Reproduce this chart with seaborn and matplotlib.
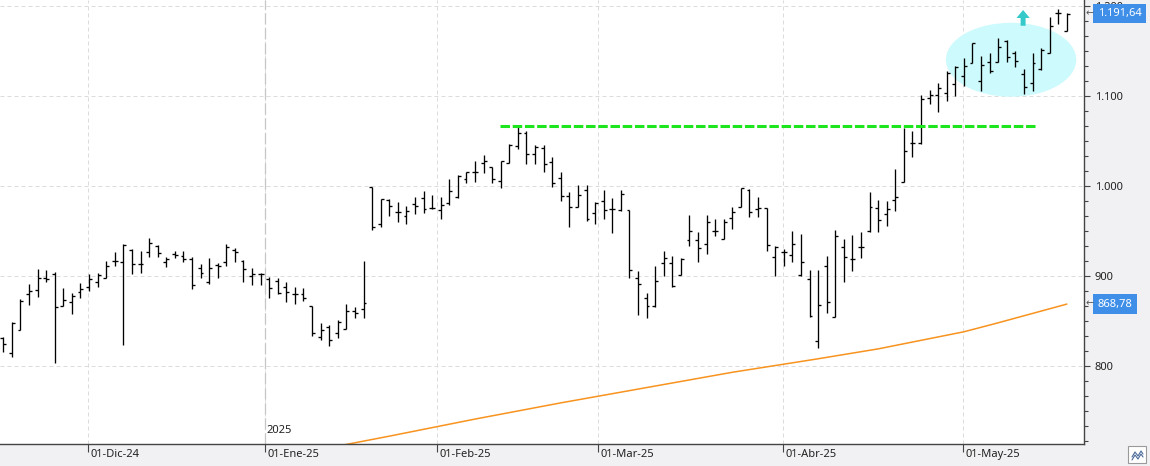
import matplotlib
matplotlib.use('Agg')
import matplotlib.pyplot as plt
from matplotlib.patches import Ellipse, FancyArrow, Rectangle
from matplotlib.lines import Line2D
from matplotlib.ticker import MultipleLocator, FuncFormatter
from matplotlib.transforms import ScaledTranslation
import seaborn as sns
import numpy as np

# Daily OHLC bars (oldest first)
opens = [830.7, 814.0, 840.0, 879.6, 884.0, 897.4, 901.9, 867.0, 871.5, 882.2,
         887.8, 893.3, 897.4, 917.0, 915.2, 928.5, 913.3, 926.3, 933.7, 915.9,
         924.4, 922.2, 918.5, 908.5, 893.0, 911.9, 915.2, 928.5, 917.0, 900.4,
         902.6, 896.7, 894.4, 888.1, 879.6, 879.6, 866.7, 831.9, 843.7, 836.3,
         841.5, 861.1, 863.3, 998.5, 957.4, 984.0, 971.5, 966.7, 979.6, 986.3,
         975.2, 973.3, 980.7, 987.4, 1007.8, 1015.9, 1025.2, 1021.5, 1005.6, 1025.9,
         1044.4, 1059.3, 1035.6, 1041.9, 1027.0, 1008.5, 988.9, 977.0, 995.6, 970.4,
         983.3, 974.1, 972.9, 972.9, 898.1, 875.2, 866.3, 914.1, 914.1, 900.7,
         940.0, 940.0, 935.2, 950.4, 940.7, 964.1, 977.0, 995.6, 974.4, 975.2,
         920.7, 926.3, 923.3, 901.1, 896.3, 827.8, 911.5, 854.8, 931.9, 918.5,
         932.6, 950.4, 975.2, 968.5, 984.4, 1004.8, 1048.1, 1047.4, 1097.4, 1101.1,
         1103.0, 1113.0, 1122.2, 1136.3, 1116.7, 1138.1, 1138.1, 1161.5, 1147.4, 1124.4,
         1114.8, 1129.6, 1148.1, 1192.6, 1172.6]
highs = [831.9, 848.5, 874.0, 891.0, 907.8, 906.7, 904.4, 886.3, 881.5, 892.6,
         902.6, 903.3, 916.7, 926.7, 935.2, 929.6, 928.1, 942.2, 934.4, 921.5,
         928.1, 928.1, 921.5, 913.0, 920.0, 914.8, 935.2, 930.7, 917.8, 908.5,
         903.7, 899.3, 898.1, 893.0, 887.4, 886.3, 866.7, 847.4, 845.6, 851.1,
         868.9, 865.2, 917.0, 998.5, 985.2, 985.9, 982.2, 977.8, 988.1, 994.4,
         990.0, 987.4, 1007.8, 1011.9, 1015.9, 1027.8, 1034.0, 1021.5, 1027.8, 1046.3,
         1065.2, 1061.1, 1045.6, 1045.6, 1031.9, 1015.2, 993.7, 1001.1, 1001.1, 982.6,
         995.6, 986.3, 995.6, 972.9, 905.6, 880.7, 911.1, 927.8, 922.2, 919.6,
         967.8, 949.3, 967.8, 963.0, 963.0, 976.3, 998.1, 996.3, 988.1, 975.2,
         933.3, 929.6, 950.4, 946.7, 906.7, 906.7, 922.2, 951.1, 941.1, 945.6,
         948.5, 992.9, 984.4, 983.3, 1018.9, 1064.8, 1061.1, 1101.1, 1106.7, 1114.1,
         1127.8, 1133.3, 1141.9, 1158.5, 1144.4, 1147.4, 1164.1, 1162.2, 1150.4, 1129.6,
         1148.1, 1153.0, 1188.1, 1196.3, 1192.6]
lows = [815.9, 809.6, 840.0, 868.0, 877.0, 893.0, 803.7, 867.0, 858.0, 876.0,
        883.7, 887.4, 897.4, 910.7, 823.7, 901.9, 903.0, 921.5, 921.5, 909.6,
        919.6, 915.9, 885.9, 898.1, 891.1, 898.1, 911.5, 915.2, 893.7, 889.6,
        890.0, 875.9, 879.6, 871.5, 868.9, 872.6, 833.7, 828.9, 822.6, 830.7,
        841.5, 853.0, 853.7, 951.1, 954.1, 967.0, 959.6, 957.4, 968.5, 969.6,
        974.1, 963.7, 978.9, 986.3, 1003.0, 1004.8, 1014.8, 1003.0, 998.1, 1025.9,
        1041.5, 1024.1, 1024.1, 1015.2, 999.3, 983.7, 954.8, 976.3, 961.1, 957.8,
        963.3, 948.1, 972.2, 898.1, 856.7, 853.7, 865.9, 900.0, 888.1, 900.7,
        933.7, 915.9, 924.1, 944.4, 940.7, 951.9, 977.0, 965.9, 965.9, 928.1,
        900.0, 911.5, 915.2, 900.4, 854.8, 820.4, 858.5, 854.8, 893.7, 905.9,
        919.6, 948.5, 948.5, 955.9, 972.6, 1004.8, 1031.9, 1046.7, 1090.7, 1082.6,
        1094.8, 1100.0, 1111.1, 1136.3, 1105.9, 1125.9, 1138.1, 1138.1, 1132.6, 1102.2,
        1105.9, 1128.9, 1147.4, 1180.0, 1172.2]
closes = [824.0, 848.1, 871.9, 883.3, 897.4, 896.7, 865.2, 873.0, 877.8, 886.0,
          897.0, 900.7, 911.0, 917.0, 934.4, 913.3, 913.3, 936.3, 925.2, 918.5,
          923.3, 918.5, 889.6, 903.0, 908.5, 911.0, 932.2, 926.3, 907.4, 901.9,
          902.6, 886.3, 881.5, 882.6, 879.6, 875.2, 836.3, 840.0, 828.9, 848.5,
          861.1, 858.5, 870.4, 954.1, 985.2, 977.8, 971.5, 972.2, 977.8, 974.1,
          975.9, 978.5, 994.4, 1011.1, 1015.2, 1015.9, 1027.8, 1007.4, 1027.8, 1045.6,
          1059.3, 1035.6, 1043.3, 1024.8, 1003.0, 988.9, 977.0, 990.0, 963.0, 981.5,
          973.3, 974.1, 991.1, 906.7, 890.7, 866.7, 894.4, 919.6, 888.9, 918.5,
          950.0, 930.7, 960.4, 950.4, 960.4, 970.7, 997.4, 970.7, 975.9, 934.1,
          931.9, 927.0, 935.2, 915.9, 855.6, 867.8, 870.7, 944.4, 920.7, 918.5,
          931.9, 976.3, 962.2, 974.1, 987.4, 1039.3, 1048.1, 1096.3, 1101.1, 1108.5,
          1125.9, 1132.6, 1133.3, 1158.5, 1134.1, 1128.1, 1154.8, 1143.7, 1139.3, 1109.6,
          1137.0, 1151.1, 1177.8, 1192.6, 1191.64]

# Long moving average (orange), sampled at a few bars
sma_idx = [39, 45, 55, 65, 75, 85, 95, 102, 112, 116, 124]
sma_val = [711.0, 722.0, 741.0, 759.0, 776.0, 793.0, 808.0, 819.0, 838.0, 848.0, 868.78]

month_labels = ['01-Dic-24', '01-Ene-25', '01-Feb-25', '01-Mar-25', '01-Abr-25', '01-May-25']
month_pos = [9.88, 30.52, 50.57, 69.35, 90.92, 111.9]
year_label = '2025'

resistance = 1066.7
last_price = 1191.64
sma_last = 868.78


def es_num(v, dec=0):
    s = f'{v:,.{dec}f}'
    return s.replace(',', 'X').replace('.', ',').replace('X', '.')


sns.set_style('white')
plt.rcParams['font.family'] = ['Noto Sans', 'DejaVu Sans']

fig = plt.figure(figsize=(11.5, 4.66), dpi=100, facecolor='#f1f1f3')
ax = fig.add_axes([0, 22 / 466, 1084 / 1150, 444 / 466])
ax.set_facecolor('white')

# OHLC bars
x = np.arange(len(opens))
ax.vlines(x, lows, highs, color='black', lw=0.95, zorder=3)
ax.hlines(opens, x - 0.34, x, color='black', lw=0.95, zorder=3)
ax.hlines(closes, x, x + 0.34, color='black', lw=0.95, zorder=3)

# moving average
sns.lineplot(x=sma_idx, y=sma_val, ax=ax, color='#f7931e', lw=1.1, zorder=2)

# resistance line
ax.plot([57.9, 120.5], [resistance, resistance], color='#1de51d', lw=2.2,
        ls=(0, (3.1, 0.9)), zorder=4, solid_capstyle='butt', dash_capstyle='butt')

# highlight ellipse + arrow
ax.add_patch(Ellipse((117.5, 1140.3), 15.2, 82.2, color='#cdfafc', lw=0, zorder=1))
ax.add_patch(FancyArrow(118.9, 1178.1, 0, 17.5, width=0.58, head_width=1.55,
                        head_length=8.9, length_includes_head=True,
                        color='#35c9c9', lw=0, zorder=4))

ax.set_xlim(-0.385, 126.0)
ax.set_ylim(713.3, 1206.7)

# grid
ax.set_xticks(month_pos)
ax.set_xticklabels(month_labels, ha='left')
ax.set_yticks([800, 900, 1000, 1100, 1200])
ax.yaxis.set_major_formatter(FuncFormatter(lambda v, _: es_num(v)))
ax.yaxis.set_minor_locator(MultipleLocator(100 / 6))
ax.grid(True, which='major', color='#dcdcdc', lw=0.72, ls=(0, (4, 3)))
ax.set_axisbelow(True)
ax.axvline(month_pos[1], color='#c6c6c6', lw=0.9, ls=(0, (9, 3)), zorder=0.7)
ax.text(month_pos[1] + 0.12, 0.03, year_label, transform=ax.get_xaxis_transform(),
        ha='left', va='center', fontsize=8, color='#222')

# axes look
ax.yaxis.tick_right()
for side in ['left', 'top']:
    ax.spines[side].set_visible(False)
for side in ['right', 'bottom']:
    ax.spines[side].set_color('#444')
    ax.spines[side].set_linewidth(1.0)
ax.tick_params(axis='y', which='major', right=True, length=4.3, width=0.8,
               color='#444', pad=3.6, labelsize=8, labelcolor='#222')
ax.tick_params(axis='y', which='minor', right=True, length=2.9, width=0.8, color='#444')
ax.tick_params(axis='x', bottom=True, length=6, width=0.8, color='#444', pad=-2.2,
               labelsize=8, labelcolor='#222')
shift = ScaledTranslation(2 / 72, 0, fig.dpi_scale_trans)
for lbl in ax.get_xticklabels():
    lbl.set_transform(lbl.get_transform() + shift)

# price tags on the right
ytr = ax.get_yaxis_transform()
for val, txt in [(last_price, es_num(last_price, 2)), (sma_last, es_num(sma_last, 2))]:
    ax.text(1.0125, val, txt, transform=ytr, ha='left', va='center', fontsize=8,
            color='white', clip_on=False, zorder=6,
            bbox=dict(boxstyle='square,pad=0.4', fc='#3f8fe8', ec='none'))
    ax.text(1.0012, val, '←', transform=ytr, ha='left', va='center', fontsize=7,
            color='#555', clip_on=False, zorder=6)

# small icon in the bottom right corner
fig.add_artist(Rectangle((1128 / 1150, 3 / 466), 18 / 1150, 17 / 466,
                         transform=fig.transFigure, fc='white', ec='#9a9a9a', lw=0.8))
for dy in (0, 3):
    fig.add_artist(Line2D(np.array([1132, 1135, 1138, 1141, 1143]) / 1150,
                          (466 - np.array([457, 452, 456, 451, 454]) - dy) / 466,
                          transform=fig.transFigure, color='#4a6a9a', lw=0.8))

fig.savefig('out.png', dpi=100, facecolor=fig.get_facecolor())
